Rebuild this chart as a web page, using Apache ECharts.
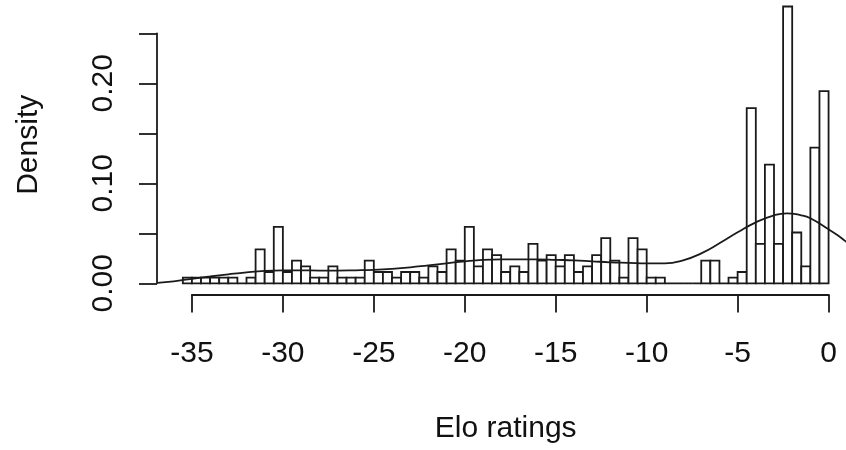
<!DOCTYPE html>
<html><head><meta charset="utf-8">
<script src="https://cdn.jsdelivr.net/npm/echarts@6/dist/echarts.min.js"></script>
<style>html,body{margin:0;padding:0;background:#fff}#c{width:846px;height:450px}</style>
</head><body><div id="c"></div>
<script>
// ---- data ----
const binStart = -35.5;
const binWidth = 0.5;
const densities = [
  0.0056, 0.0056, 0.0056, 0.0056, 0.0056, 0.0056, 0,      0.0056, 0.0339, 0.0113,
  0.0565, 0.0113, 0.0226, 0.0169, 0.0056, 0.0056, 0.0169, 0.0056, 0.0056, 0.0056,
  0.0226, 0.0113, 0.0113, 0.0056, 0.0113, 0.0113, 0.0056, 0.0169, 0.0113, 0.0339,
  0.0226, 0.0565, 0.0169, 0.0339, 0.0282, 0.0113, 0.0169, 0.0113, 0.0395, 0.0226,
  0.0282, 0.0169, 0.0282, 0.0113, 0.0169, 0.0282, 0.0452, 0.0226, 0.0056, 0.0452,
  0.0339, 0.0056, 0.0056, 0,      0,      0,      0,      0.0226, 0.0226, 0,
  0.0056, 0.0113, 0.1751, 0.0395, 0.1186, 0.0395, 0.2768, 0.0508, 0.0169, 0.1356,
  0.1921
];
const curveX = [-36.9, -36, -35, -34, -33, -32, -31, -30, -29, -28, -27, -26, -25, -24, -23, -22,
  -21, -20, -19, -18, -17, -16, -15, -14, -13, -12, -11, -10, -9, -8, -7, -6, -5, -4, -3,
  -2.3, -1.5, -1, 0, 0.5, 1, 1.42];
const curveY = [0.0005, 0.002, 0.0045, 0.0068, 0.009, 0.011, 0.0125, 0.013, 0.013, 0.0127, 0.0127, 0.013, 0.0135, 0.0145, 0.016, 0.018,
  0.020, 0.022, 0.0235, 0.024, 0.024, 0.024, 0.0235, 0.023, 0.022, 0.021, 0.0205, 0.020, 0.020, 0.023, 0.030, 0.040, 0.051, 0.061, 0.068,
  0.070, 0.068, 0.065, 0.054, 0.048, 0.041, 0.035];
const xTickLabels = ['-35', '-30', '-25', '-20', '-15', '-10', '-5', '0'];
const yTickLabels = ['0.00', '0.10', '0.20'];
const xTitle = 'Elo ratings';
const yTitle = 'Density';

// ---- layout (R-style plot region) ----
const W = 846, H = 450;
const P = {left: 157, right: 854.4, top: -4.8, bottom: 294.4};
const xUsr = [-36.92, 1.42];
const yUsr = [-0.01108, 0.28808];
const px = v => P.left + (v - xUsr[0]) / (xUsr[1] - xUsr[0]) * (P.right - P.left);
const py = v => P.bottom - (v - yUsr[0]) / (yUsr[1] - yUsr[0]) * (P.bottom - P.top);

const bars = densities.map((d, i) => [binStart + i * binWidth, binStart + (i + 1) * binWidth, d]);
const curve = curveX.map((x, i) => [x, curveY[i]]);

const FONT = "'Liberation Sans', Arial, Helvetica, sans-serif";
const INK = '#1a1a1a';
const LW = 1.8;
const txt = {fontFamily: FONT, fontSize: 30, color: '#111'};

const chart = echarts.init(document.getElementById('c'), null, {renderer: 'canvas'});
chart.setOption({
  animation: false,
  backgroundColor: '#fff',
  grid: [
    {left: P.left, right: W - P.right, top: P.top, bottom: H - P.bottom, outerBoundsMode: 'none', containLabel: false},
    {left: px(-35), right: W - px(0), top: py(0.25), bottom: H - py(0), outerBoundsMode: 'none', containLabel: false}
  ],
  xAxis: [
    {gridIndex: 0, type: 'value', position: 'bottom', min: xUsr[0], max: xUsr[1],
     axisLine: {show: false, onZero: false}, axisTick: {show: false}, axisLabel: {show: false}, splitLine: {show: false},
     name: xTitle, nameLocation: 'middle', nameGap: 119, nameTextStyle: txt},
    {gridIndex: 1, type: 'value', position: 'bottom', min: -35, max: 0, interval: 5, offset: P.bottom - py(0),
     axisLine: {show: true, onZero: false, lineStyle: {color: INK, width: LW}},
     axisTick: {show: true, length: 18, lineStyle: {color: INK, width: LW}},
     axisLabel: Object.assign({margin: 44, formatter: v => {
        const i = Math.round((v + 35) / 5); return xTickLabels[i] || ''; }}, txt),
     splitLine: {show: false}}
  ],
  yAxis: [
    {gridIndex: 0, type: 'value', position: 'left', min: yUsr[0], max: yUsr[1],
     axisLine: {show: false, onZero: false}, axisTick: {show: false}, axisLabel: {show: false}, splitLine: {show: false},
     name: yTitle, nameLocation: 'middle', nameRotate: 90, nameGap: 113, nameTextStyle: txt},
    {gridIndex: 1, type: 'value', position: 'left', min: 0, max: 0.25, interval: 0.05, offset: px(-35) - P.left,
     axisLine: {show: true, onZero: false, lineStyle: {color: INK, width: LW}},
     axisTick: {show: true, length: 18, lineStyle: {color: INK, width: LW}},
     axisLabel: Object.assign({margin: 38, rotate: 90, formatter: v => {
        const s = v.toFixed(2); return yTickLabels.indexOf(s) >= 0 ? s : ''; }}, txt),
     splitLine: {show: false}}
  ],
  series: [
    {type: 'custom', xAxisIndex: 0, yAxisIndex: 0, clip: false, data: bars,
     encode: {x: [0, 1], y: 2},
     renderItem: (params, api) => {
       const p0 = api.coord([api.value(0), 0]);
       const p1 = api.coord([api.value(1), api.value(2)]);
       return {type: 'rect',
         shape: {x: p0[0], y: p1[1], width: p1[0] - p0[0], height: p0[1] - p1[1]},
         style: {fill: '#fff', stroke: INK, lineWidth: LW}};
     }, z: 2},
    {type: 'line', xAxisIndex: 0, yAxisIndex: 0, data: curve, smooth: true,
     showSymbol: false, symbol: 'none', clip: true,
     lineStyle: {color: INK, width: LW}, z: 3}
  ]
});
</script></body></html>
